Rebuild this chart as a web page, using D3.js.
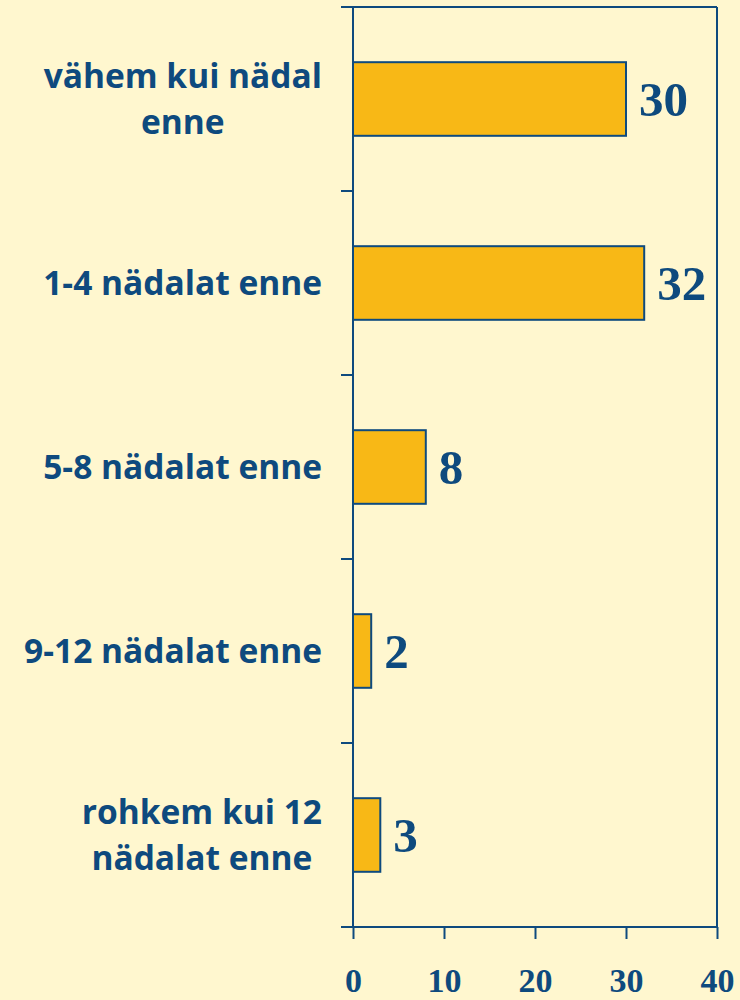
<!DOCTYPE html>
<html>
<head>
<meta charset="utf-8">
<script src="https://cdn.jsdelivr.net/npm/d3@7"></script>
<style>
  html, body { margin: 0; padding: 0; background: #fff7cf; }
  svg { display: block; }
</style>
</head>
<body>
<div id="vis"></div>
<script>

// data
var categories = [
  ['vähem kui nädal', 'enne'],
  ['1-4 nädalat enne'],
  ['5-8 nädalat enne'],
  ['9-12 nädalat enne'],
  ['rohkem kui 12', 'nädalat enne']
];
var values = [30, 32, 8, 2, 3];
var xTicks = [0, 10, 20, 30, 40];

var width = 740;
var height = 1000;
var margin = { top: 7, right: 23, bottom: 73, left: 353 };

var blue = '#0e4a7e';
var gold = '#f8b816';

var svg = d3.select('#vis')
  .append('svg')
  .attr('width', width)
  .attr('height', height)
  .style('background', '#fff7cf');

var x = d3.scaleLinear()
  .domain([0, 40])
  .range([margin.left, width - margin.right]);

var keys = categories.map(function (d, i) { return i; });

var y = d3.scaleBand()
  .domain(keys)
  .range([margin.top, height - margin.bottom])
  .padding(0);

var barH = y.bandwidth() * 0.4;

// frame: top and right lines
svg.append('line')
  .attr('x1', margin.left - 12).attr('x2', x(40))
  .attr('y1', margin.top).attr('y2', margin.top)
  .attr('stroke', blue).attr('stroke-width', 2);

svg.append('line')
  .attr('x1', x(40)).attr('x2', x(40))
  .attr('y1', margin.top).attr('y2', height - margin.bottom)
  .attr('stroke', blue).attr('stroke-width', 2);

// left axis with ticks at band boundaries
svg.append('line')
  .attr('x1', x(0)).attr('x2', x(0))
  .attr('y1', margin.top).attr('y2', height - margin.bottom)
  .attr('stroke', blue).attr('stroke-width', 2);

var bounds = keys.map(function (k) { return y(k); }).concat([y.range()[1]]);
svg.selectAll('.ytick')
  .data(bounds)
  .enter().append('line')
  .attr('class', 'ytick')
  .attr('x1', x(0) - 12).attr('x2', x(0))
  .attr('y1', function (d) { return d; })
  .attr('y2', function (d) { return d; })
  .attr('stroke', blue).attr('stroke-width', 2);

// bottom axis
var xAxis = d3.axisBottom(x)
  .tickValues(xTicks)
  .tickSize(12)
  .tickSizeOuter(0);

var gx = svg.append('g')
  .attr('transform', 'translate(0,' + (height - margin.bottom) + ')')
  .call(xAxis);

gx.select('.domain')
  .attr('d', 'M' + (margin.left - 12) + ',0H' + x(40))
  .attr('stroke', blue).attr('stroke-width', 2);
gx.selectAll('.tick line').attr('stroke', blue).attr('stroke-width', 2);
gx.selectAll('.tick text')
  .attr('y', 65)
  .attr('dy', 0)
  .attr('fill', blue)
  .style('font-family', '"Liberation Serif", "DejaVu Serif", serif')
  .style('font-weight', 'bold')
  .style('font-size', '34px');

// bars
svg.selectAll('.bar')
  .data(values)
  .enter().append('rect')
  .attr('class', 'bar')
  .attr('x', x(0))
  .attr('y', function (d, i) { return y(i) + (y.bandwidth() - barH) / 2; })
  .attr('width', function (d) { return x(d) - x(0); })
  .attr('height', barH)
  .attr('fill', gold)
  .attr('stroke', blue)
  .attr('stroke-width', 2);

// value labels
svg.selectAll('.val')
  .data(values)
  .enter().append('text')
  .attr('class', 'val')
  .attr('x', function (d) { return x(d) + 13; })
  .attr('y', function (d, i) { return y(i) + y.bandwidth() / 2 + 17; })
  .attr('fill', blue)
  .style('font-family', '"Liberation Serif", "DejaVu Serif", serif')
  .style('font-weight', 'bold')
  .style('font-size', '49px')
  .text(function (d) { return d; });

// category labels, lines centred on each other, block right aligned
var labelRight = 322;
var lineH = 46;

categories.forEach(function (lines, i) {
  var cy = y(i) + y.bandwidth() / 2;
  var g = svg.append('g').attr('class', 'cat');
  var texts = lines.map(function (line, j) {
    return g.append('text')
      .attr('y', cy + (j - (lines.length - 1) / 2) * lineH + 12)
      .attr('fill', blue)
      .style('font-family', '"Open Sans", sans-serif')
      .style('font-weight', 'bold')
      .style('font-size', '33.5px')
      .text(line);
  });
  var maxW = d3.max(texts, function (t) { return t.node().getComputedTextLength(); });
  texts.forEach(function (t) {
    t.attr('text-anchor', 'middle').attr('x', labelRight - maxW / 2);
  });
});

</script>
</body>
</html>
